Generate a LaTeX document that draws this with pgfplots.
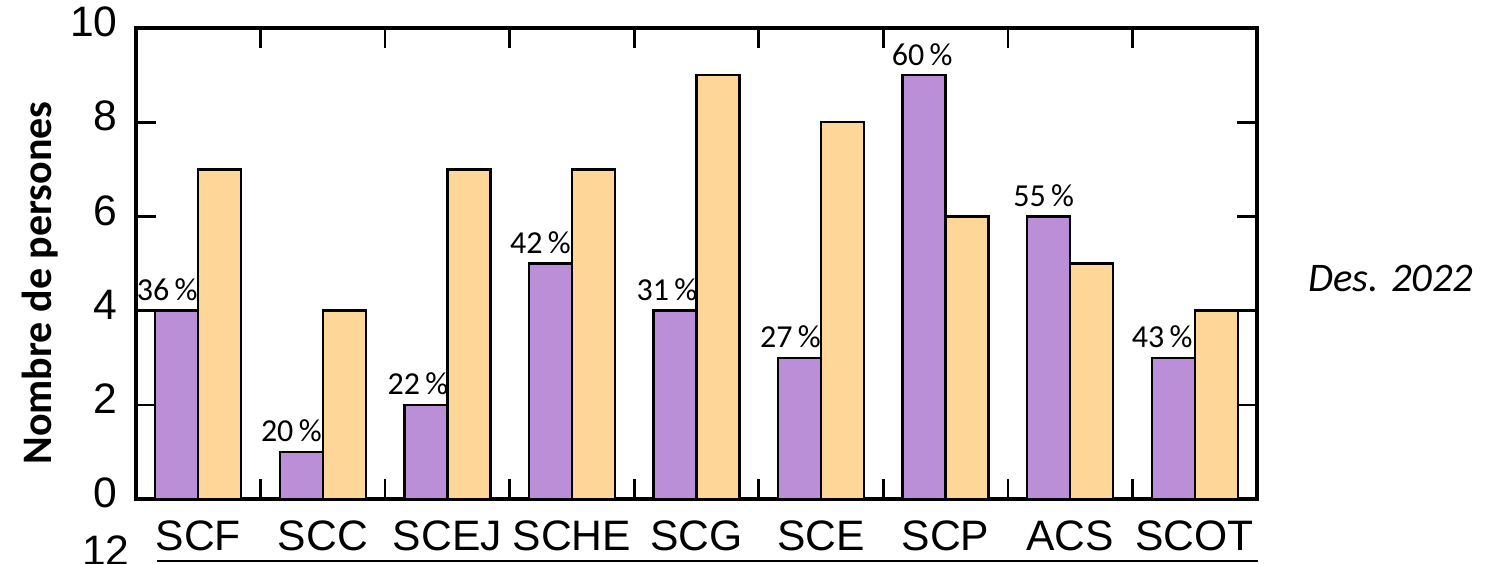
\documentclass[border=0pt]{standalone}
\usepackage{pgfplots}
\pgfplotsset{compat=1.18}
\usepackage{pgfplotstable}
\usepackage{fontspec}
\setmainfont{Liberation Sans}
\newfontfamily\calfont{Carlito}
\definecolor{cpurple}{HTML}{BB8FD8}
\definecolor{corange}{HTML}{FED698}

\pgfplotstableread{
x y lab sh
0 4 36 -4.75
1 1 20 -5
2 2 22 -4
3 5 42 -5
4 4 31 -4
5 3 27 -4.5
6 9 60 -1
7 6 55 -2.5
8 3 43 -5.5
}\purpletab

\pgfplotstableread{
x y
0 7
1 4
2 7
3 7
4 9
5 8
6 6
7 5
8 4
}\orangetab

\begin{document}
\begin{tikzpicture}
\clip (-68pt,-32pt) rectangle (676pt,249.5pt);
\begin{axis}[
  at={(0pt,0pt)}, anchor=south west,
  scale only axis, width=560.5pt, height=235.5pt,
  clip=false,
  ybar=0pt, bar width=21.5pt,
  xmin=-0.5, xmax=8.5, ymin=0, ymax=10,
  xtick={0.5,1.5,...,7.5}, xticklabels={},
  extra x ticks={0,1,...,8},
  extra x tick labels={SCF,SCC,SCEJ,SCHE,SCG,SCE,SCP,ACS,SCOT},
  extra x tick style={major tick length=0pt},
  ytick={0,2,...,10},
  tick align=inside,
  major tick length=10pt,
  axis line style={line width=1.6pt},
  every tick/.style={black, line width=1.3pt},
  tick label style={font=\fontsize{21.3}{25}\selectfont},
  /pgf/number format/assume math mode=true,
  yticklabel style={inner sep=0pt, xshift=-9pt, yshift=3pt},
  xticklabel style={anchor=base, inner sep=0pt, yshift=-25.5pt},
  ylabel={Nombre de persones},
  ylabel style={font=\calfont\bfseries\fontsize{21}{24}\selectfont,
    at={(axis description cs:-0.0758,0.4586)}, anchor=base},
]
\addplot[fill=cpurple, draw=black, line width=1.2pt,
  nodes near coords={\pgfplotspointmeta\,\%},
  point meta=explicit symbolic,
  visualization depends on={\thisrow{sh} \as \lsh},
  every node near coord/.append style={font=\calfont\fontsize{16}{18}\selectfont,
    text=black, anchor=base, inner sep=0pt, yshift=5pt, xshift=\lsh pt}]
  table[x=x, y=y, meta=lab]{\purpletab};
\addplot[fill=corange, draw=black, line width=1.2pt]
  table[x=x, y=y]{\orangetab};
\node[anchor=base west, inner sep=0pt, font=\calfont\itshape\fontsize{20.3}{24}\selectfont]
  at (axis description cs:1.0455,0.4395) {Des. 2022};
\end{axis}
\node[anchor=base east, inner sep=0pt, font=\fontsize{21.3}{25}\selectfont] at (-3pt,-33pt) {12};
\draw[line width=0.6pt] (10.5pt,-31pt) -- (561pt,-31pt);
\end{tikzpicture}
\end{document}
